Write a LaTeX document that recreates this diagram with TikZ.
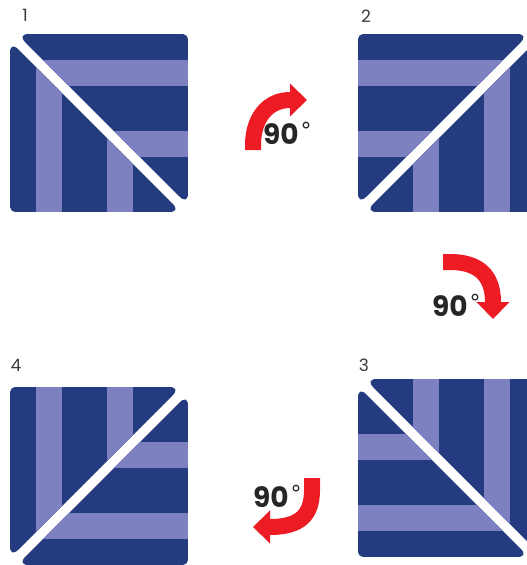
\documentclass[tikz,border=0pt]{standalone}
\usepackage{fontspec}
\setmainfont{Poppins}
\newfontfamily\degfont{DejaVu Sans}
\usepackage{xcolor}
\usepackage{tikz}
\usetikzlibrary{arrows.meta}
\definecolor{quiltnavy}{HTML}{243C7F}
\definecolor{quiltlilac}{HTML}{7E81C0}
\definecolor{turnred}{HTML}{ED1C24}
\definecolor{stepgray}{HTML}{3A3A3A}
\tikzset{
  qstripe/.style={fill=quiltlilac},
  tturn/.style={-{Triangle[length=17pt, width=32pt]}, line width=16pt, turnred},
  tdeg/.style={font=\fontsize{28}{28}\selectfont, anchor=base west, inner sep=0pt, text=black!85},
  tnum/.style={font=\fontsize{17}{17}\selectfont, text=stepgray, inner sep=0pt},
  pics/halfsquare/.style={code={
    \begin{scope}
      \clip (-70,-89) -- (84,-89) .. controls (86.8,-89) and (89,-86.2) .. (89,-84)
        -- (89,70) .. controls (89,77.2) and (85.6,78.6) .. (80.5,73.5)
        -- (-73.5,-80.5) .. controls (-78.6,-85.6) and (-77.2,-89) .. (-70,-89) -- cycle;
      \fill[quiltnavy] (-89,-89) rectangle (89,89);
      \fill[qstripe] (-89,-63) rectangle (89,-37);
      \fill[qstripe] (-89,8) rectangle (89,34);
    \end{scope}
    \begin{scope}
      \clip (-89,-70) -- (-89,84) .. controls (-89,86.8) and (-86.2,89) .. (-84,89)
        -- (70,89) .. controls (77.2,89) and (78.6,85.6) .. (73.5,80.5)
        -- (-80.5,-73.5) .. controls (-85.6,-78.6) and (-89,-77.2) .. (-89,-70) -- cycle;
      \fill[quiltnavy] (-89,-89) rectangle (89,89);
      \fill[qstripe] (-63,-89) rectangle (-37,89);
      \fill[qstripe] (8,-89) rectangle (34,89);
    \end{scope}
  }},
}
\newcommand{\ninety}{\textbf{90}\hspace{2pt}{\degfont\fontsize{22}{22}\selectfont\raisebox{6pt}{°}}}
\begin{document}
\begin{tikzpicture}[x=1pt, y=-1pt]
  \useasboundingbox (0,0) rectangle (527,565);
  \clip (0,0) rectangle (527,565);
  \pic (blk1) at (99,123) {halfsquare};
  \pic[rotate=-90] (blk2) at (447,123) {halfsquare};
  \pic[rotate=180] (blk3) at (447,468) {halfsquare};
  \pic[rotate=90] (blk4) at (99,476) {halfsquare};
  \node[tnum] (num1) at (25,15) {1};
  \node[tnum] (num2) at (366,16) {2};
  \node[tnum] (num3) at (364,365) {3};
  \node[tnum] (num4) at (16,365) {4};
  % turn arrows
  \coordinate (turn1a) at (253,150);
  \coordinate (turn1b) at (307,100);
  \draw[tturn] (turn1a) -- (253,145) .. controls (253,118) and (268,100) .. (290,100) -- (turn1b);
  \coordinate (turn2a) at (443,262);
  \coordinate (turn2b) at (493,319);
  \draw[tturn] (turn2a) -- (450,262) .. controls (478,262) and (493,275) .. (493,302) -- (turn2b);
  \coordinate (turn3a) at (312,478);
  \coordinate (turn3b) at (253,527);
  \draw[tturn] (turn3a) -- (312,490) .. controls (312,515) and (300,527) .. (270,527) -- (turn3b);
  \node[tdeg] (deg1) at (263,144) {\ninety};
  \node[tdeg] (deg2) at (432,316) {\ninety};
  \node[tdeg] (deg3) at (253,507) {\ninety};
\end{tikzpicture}
\end{document}
